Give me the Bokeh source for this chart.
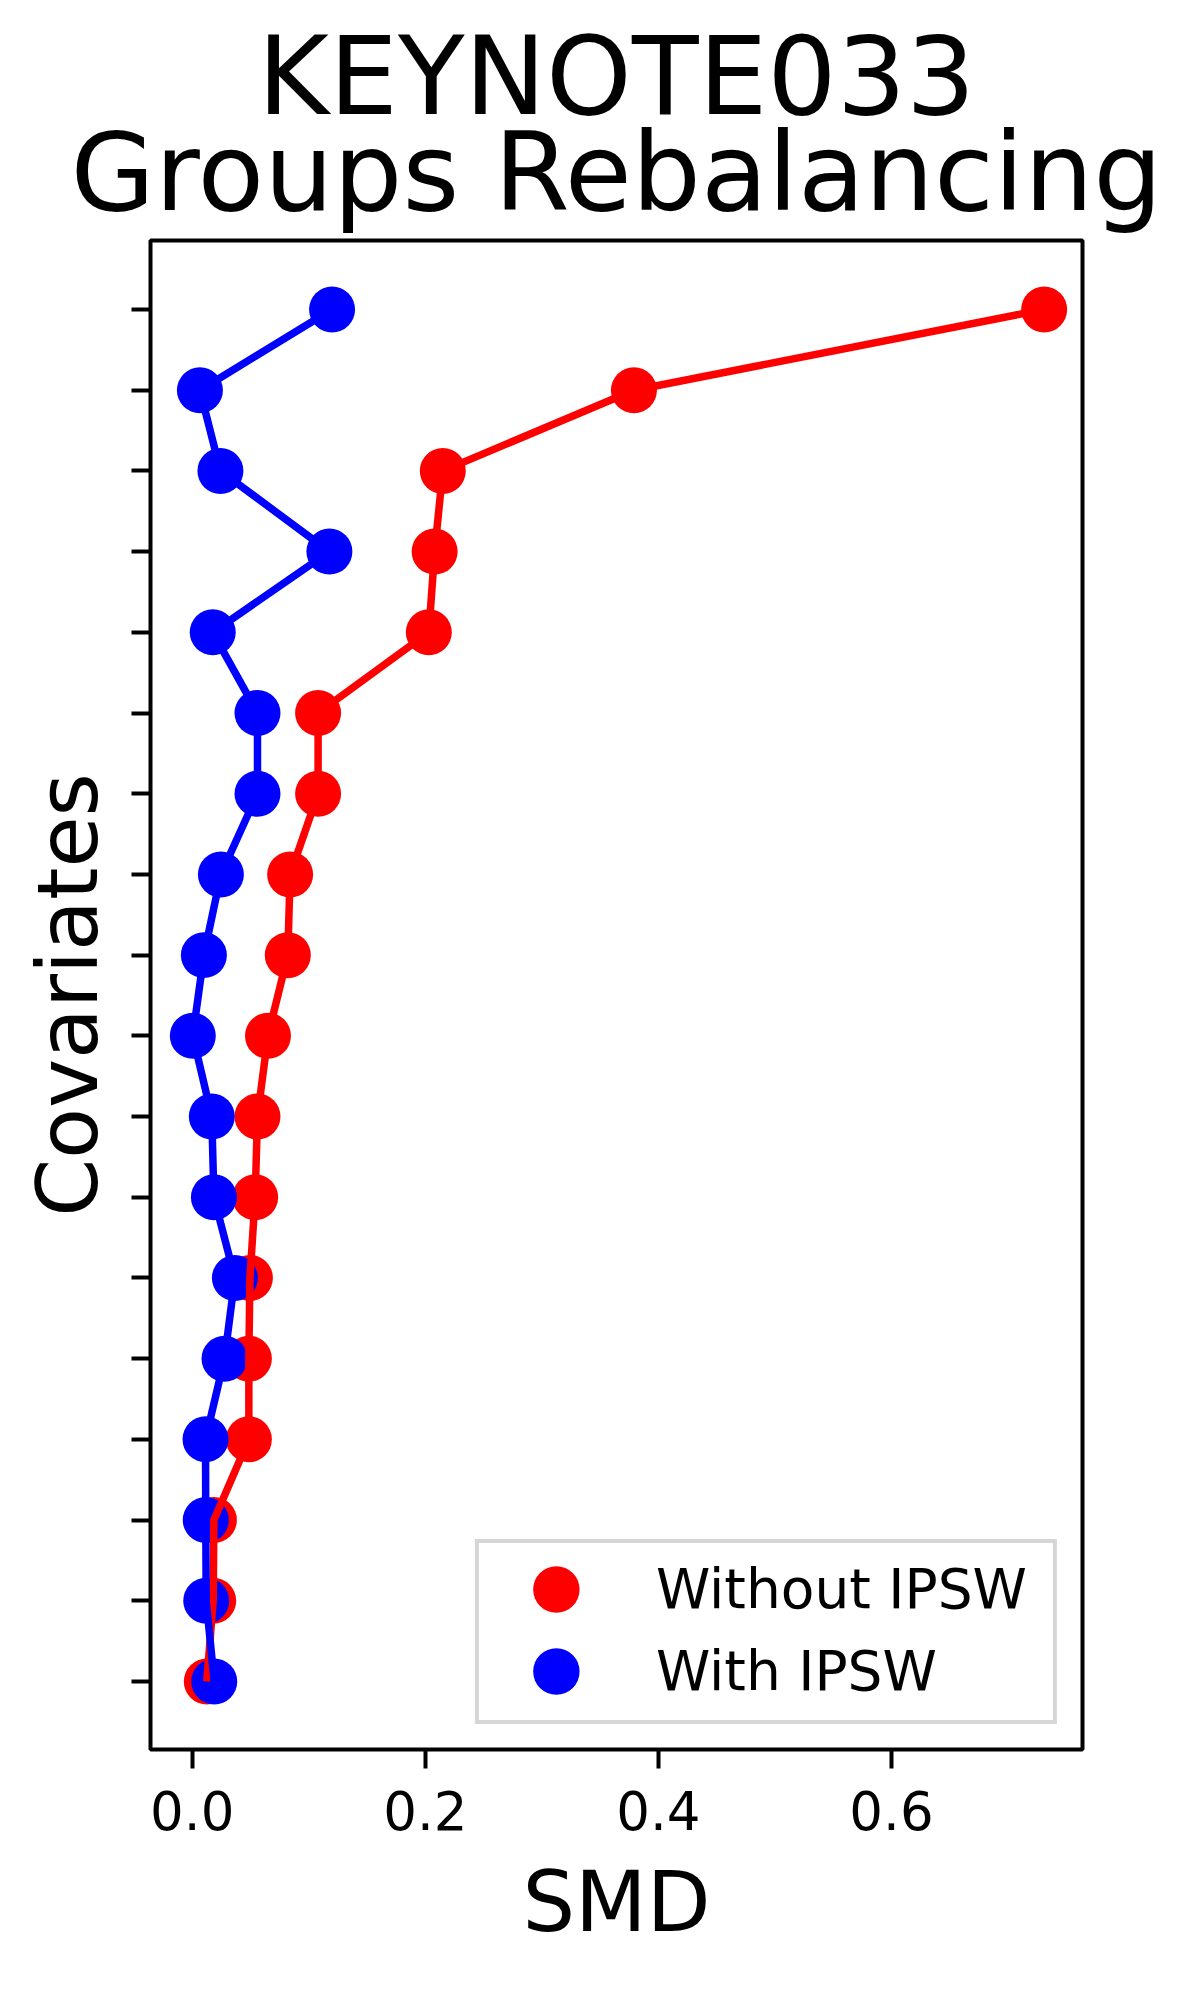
from bokeh.plotting import figure
from bokeh.models import (Range1d, FixedTicker, NumeralTickFormatter, Legend,
                          LegendItem, Title, ColumnDataSource)
from bokeh.embed import file_html
from bokeh.resources import INLINE

# ---- data (index 0 = bottom covariate, 17 = top covariate) ----
covariate_pos = list(range(18))
smd_without_ipsw = [0.0125, 0.018, 0.0186, 0.0486, 0.0486, 0.0495, 0.054, 0.056,
                    0.065, 0.082, 0.084, 0.108, 0.108, 0.203, 0.208, 0.215, 0.379, 0.731]
smd_with_ipsw = [0.0189, 0.012, 0.0116, 0.0114, 0.0277, 0.0366, 0.0186, 0.0168,
                 0.0005, 0.010, 0.0246, 0.056, 0.056, 0.0176, 0.1177, 0.0242, 0.0066, 0.120]
x_ticks = [0.0, 0.2, 0.4, 0.6]
series_labels = ["Without IPSW", "With IPSW"]
series_colors = ["#ff0000", "#0000ff"]
title_lines = ["KEYNOTE033", "Groups Rebalancing"]
x_label = "SMD"
y_label = "Covariates"

FONT = "DejaVu Sans"

p = figure(width=1200, height=2000, output_backend="svg", toolbar_location=None,
           title=None,
           x_range=Range1d(-0.0358, 0.7639), y_range=Range1d(-0.843, 17.855),
           min_border_left=150, min_border_right=118, min_border_top=240,
           min_border_bottom=251)
p.background_fill_color = "white"
p.border_fill_color = "white"
p.outline_line_color = "black"
p.outline_line_width = 4
p.xgrid.visible = False
p.ygrid.visible = False

src_wo = ColumnDataSource(dict(x=smd_without_ipsw, y=covariate_pos))
src_w = ColumnDataSource(dict(x=smd_with_ipsw, y=covariate_pos))

r_wo = p.scatter("x", "y", source=src_wo, size=46, fill_color=series_colors[0], line_color=None)
r_w = p.scatter("x", "y", source=src_w, size=46, fill_color=series_colors[1], line_color=None)
p.line("x", "y", source=src_wo, line_width=7.5, line_color=series_colors[0])
p.line("x", "y", source=src_w, line_width=7.5, line_color=series_colors[1])

# legend proxies (no visible data points; only used to draw legend swatches)
nan = float("nan")
leg_wo = p.ellipse(x=[nan], y=[nan], width=46, height=46, width_units="screen",
                   height_units="screen", fill_color=series_colors[0], line_color=None)
leg_w = p.ellipse(x=[nan], y=[nan], width=46, height=46, width_units="screen",
                  height_units="screen", fill_color=series_colors[1], line_color=None)

# axes
xa = p.xaxis[0]
xa.ticker = FixedTicker(ticks=x_ticks)
xa.formatter = NumeralTickFormatter(format="0.0")
ya = p.yaxis[0]
ya.ticker = FixedTicker(ticks=covariate_pos)
ya.major_label_text_font_size = "0px"
ya.major_label_text_alpha = 0
ya.major_label_standoff = 0
for ax in (xa, ya):
    ax.axis_line_color = None
    ax.major_tick_out = 19
    ax.major_tick_in = 0
    ax.minor_tick_out = 0
    ax.minor_tick_in = 0
    ax.major_tick_line_width = 4
    ax.major_tick_line_color = "black"
    ax.axis_label_text_font = FONT
    ax.axis_label_text_font_size = "83px"
    ax.axis_label_text_font_style = "normal"
    ax.axis_label_text_color = "black"
    ax.major_label_text_font = FONT
    ax.major_label_text_color = "black"
xa.major_label_text_font_size = "53px"
xa.major_label_standoff = 22
xa.axis_label = x_label
xa.axis_label_standoff = 21
ya.axis_label = y_label
ya.axis_label_standoff = 15

# legend
legend = Legend(items=[LegendItem(label=series_labels[0], renderers=[leg_wo]),
                       LegendItem(label=series_labels[1], renderers=[leg_w])],
                location="bottom_right", margin=25,
                glyph_width=58, glyph_height=82, spacing=0,
                padding=dict(left=48, right=26, top=5, bottom=8),
                label_standoff=71, label_width=371,
                label_text_font=FONT, label_text_font_size="55px",
                label_text_color="black",
                border_line_color="#cccccc", border_line_width=4,
                border_line_alpha=0.8, background_fill_alpha=0.8)
p.add_layout(legend)

# titles (second line nearest to frame, added first)
t2 = Title(text=title_lines[1], align="center", text_font=FONT,
           text_font_size="109px", text_font_style="normal", text_color="black",
           standoff=9)
p.add_layout(t2, "above")
t1 = Title(text=title_lines[0], align="center", text_font=FONT,
           text_font_size="109px", text_font_style="normal", text_color="black",
           standoff=-75)
p.add_layout(t1, "above")

open("out.html", "w").write(file_html(p, INLINE))
